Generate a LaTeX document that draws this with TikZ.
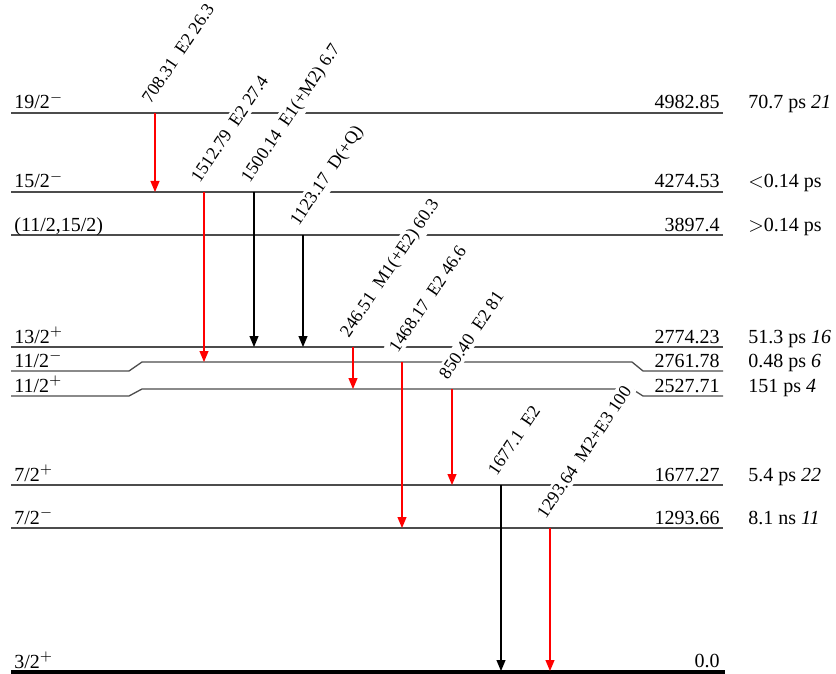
\documentclass[tikz,border=0pt]{standalone}
\usepackage{fontspec}
\setmainfont{Liberation Serif}
\usetikzlibrary{arrows.meta}

\begin{document}
\begin{tikzpicture}[x=0.5pt, y=-0.5pt, every node/.style={font=\fontsize{10}{12}\selectfont, inner sep=0pt},
  lev/.style={draw=black!70, line width=0.65pt},
  gam/.style={-{Triangle[width=4.5pt,length=5.5pt]}, line width=0.55pt},
  glab/.style={rotate=56, anchor=base west, fill=white, inner sep=1.5pt, font=\fontsize{9}{11}\selectfont}]
  \useasboundingbox (0,0) rectangle (836,674);
  % levels: index / y at the ends / y in the middle / spin / energy / lifetime
  \foreach \i/\yl/\ym/\sp/\en/\tau in {
      1/113/113/{19/2$^-$}/4982.85/{70.7 ps \textit{21}},
      2/192/192/{15/2$^-$}/4274.53/{$<$0.14 ps},
      3/235/235/{(11/2,15/2)}/3897.4/{$>$0.14 ps},
      4/347/347/{13/2$^+$}/2774.23/{51.3 ps \textit{16}},
      5/371/362/{11/2$^-$}/2761.78/{0.48 ps \textit{6}},
      6/396/389/{11/2$^+$}/2527.71/{151 ps \textit{4}},
      7/485/485/{7/2$^+$}/1677.27/{5.4 ps \textit{22}},
      8/528/528/{7/2$^-$}/1293.66/{8.1 ns \textit{11}}}{
    \draw[lev] (11,\yl) -- (129,\yl) -- (142,\ym) -- (632,\ym) -- (643,\yl) -- (723,\yl);
    \node[anchor=base west] (sp\i) at (14,\yl-4) {\sp};
    \node[anchor=base east] (en\i) at (720,\yl-4) {\en};
    \node[anchor=base west] (tau\i) at (748,\yl-4) {\tau};
  }
  % ground state
  \draw[line width=1.6pt] (11,672) -- (725,672);
  \node[anchor=base west] (sp9) at (14,668) {3/2$^+$};
  \node[anchor=base east] (en9) at (720,667) {0.0};
  % gamma labels
  \foreach \n/\x/\ya/\yb/\txt in {
      708/155/113/192/{708.31\enspace E2 26.3},
      1512/204/192/362/{1512.79\enspace E2 27.4},
      1500/254/192/347/{1500.14\enspace E1(+M2) 6.7},
      1123/303/235/347/{1123.17\enspace D(+Q)},
      246/353/347/389/{246.51\enspace M1(+E2) 60.3},
      1468/402/362/528/{1468.17\enspace E2 46.6},
      850/452/389/485/{850.40\enspace E2 81},
      1677/501/485/671/{1677.1\enspace E2},
      1293/550/528/671/{1293.64\enspace M2+E3 100}}{
    \coordinate (g\n a) at (\x,\ya);
    \coordinate (g\n b) at (\x,\yb);
    \node[glab] (t\n) at ([shift={(-6,-6)}]g\n a) {\txt};
  }
  % gamma arrows
  \foreach \n/\c in {708/red,1512/red,1500/black,1123/black,246/red,1468/red,850/red,1677/black,1293/red}
    \draw[gam,\c] (g\n a) -- (g\n b);
\end{tikzpicture}
\end{document}
